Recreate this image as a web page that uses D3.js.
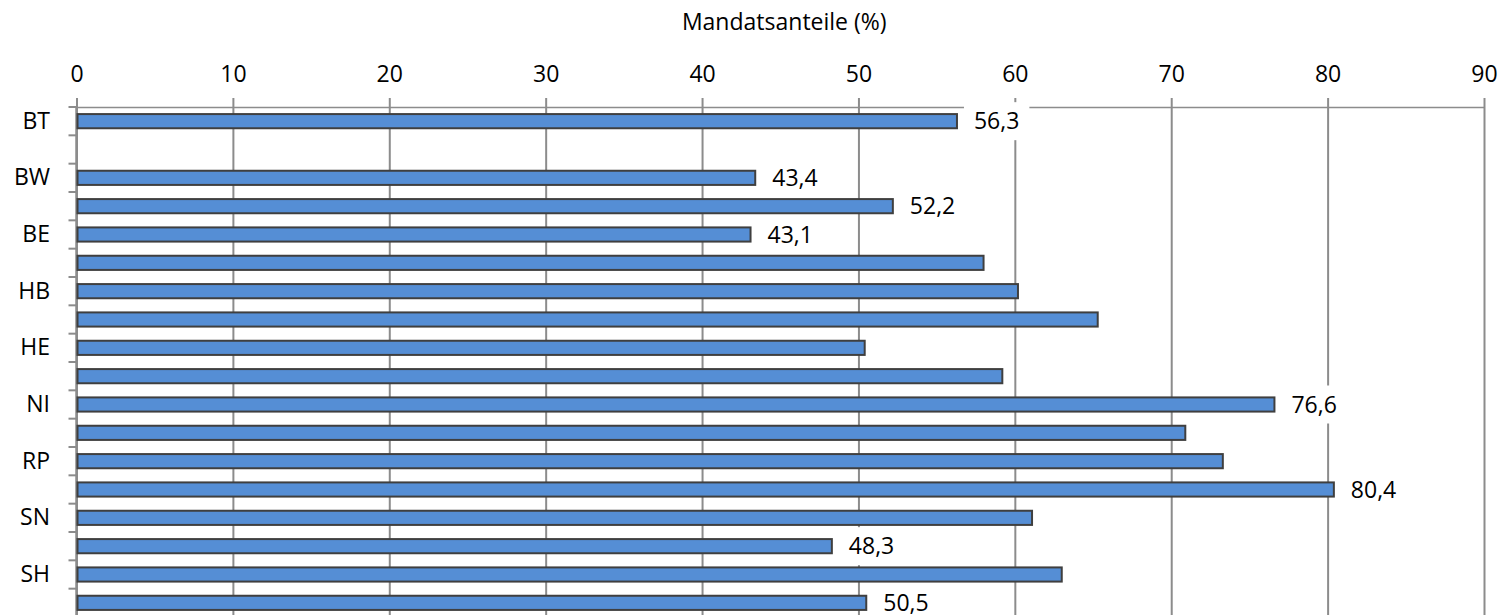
<!DOCTYPE html>
<html>
<head>
<meta charset="utf-8">
<script src="https://cdn.jsdelivr.net/npm/d3@7"></script>
<style>
  body { margin: 0; background: #fff; }
  text { font-family: "Open Sans", "Noto Sans", sans-serif; fill: #000; }
</style>
</head>
<body>
<div id="wrapper"></div>
<script>
// categories (one empty row after BT, as in the original)
const categories = ["BT", "", "BW", "BY", "BE", "BB", "HB", "HH", "HE", "MV", "NI", "NW", "RP", "SL", "SN", "ST", "SH", "TH"];
const seatShares = [56.3, null, 43.4, 52.2, 43.1, 58.0, 60.2, 65.3, 50.4, 59.2, 76.6, 70.9, 73.3, 80.4, 61.1, 48.3, 63.0, 50.5];
const labeledCategories = ["BT", "BW", "BY", "BE", "NI", "SL", "ST", "TH"];
const xTicks = [0, 10, 20, 30, 40, 50, 60, 70, 80, 90];
const axisTitle = "Mandatsanteile (%)";

function drawBarChart() {
  const data = categories.map((c, i) => ({ key: c === "" ? "_empty" + i : c, label: c, value: seatShares[i], index: i }));

  let dimensions = {
    width: 1508,
    height: 615,
    margin: { top: 107, right: 24, bottom: -2, left: 76.5 },
  };
  dimensions.boundedWidth = dimensions.width - dimensions.margin.left - dimensions.margin.right;
  dimensions.boundedHeight = dimensions.height - dimensions.margin.top - dimensions.margin.bottom;

  const fontSize = 23;
  const deFormat = d3.formatLocale({ decimal: ",", thousands: ".", grouping: [3], currency: ["", " €"] }).format(".1f");

  const svg = d3.select("#wrapper").append("svg")
    .attr("width", dimensions.width)
    .attr("height", dimensions.height);

  const bounds = svg.append("g")
    .attr("transform", `translate(${dimensions.margin.left},${dimensions.margin.top})`);

  const xScale = d3.scaleLinear()
    .domain([0, 90])
    .range([0, dimensions.boundedWidth]);

  const yScale = d3.scaleBand()
    .domain(data.map(d => d.key))
    .range([0, dimensions.boundedHeight])
    .paddingInner(0.5)
    .paddingOuter(0.25);

  const step = yScale.step();

  // vertical gridlines
  const grid = bounds.append("g")
    .call(d3.axisTop(xScale).tickValues(xTicks).tickSize(-dimensions.boundedHeight).tickFormat(""));
  grid.select(".domain").remove();
  grid.selectAll(".tick line").attr("stroke", "#8c8c8c").attr("stroke-width", 2);

  // top value axis
  const xAxis = bounds.append("g")
    .call(d3.axisTop(xScale).tickValues(xTicks).tickSize(9).tickSizeOuter(0).tickPadding(16).tickFormat(d3.format("d")));
  xAxis.select(".domain").attr("stroke", "#8c8c8c").attr("stroke-width", 1.5);
  xAxis.selectAll(".tick line").attr("stroke", "#8c8c8c").attr("stroke-width", 2);
  xAxis.selectAll(".tick text").attr("font-size", fontSize).style("font-family", '"Open Sans", sans-serif');

  // left category axis
  const yAxis = bounds.append("g")
    .call(d3.axisLeft(yScale).tickSize(0).tickPadding(26.5)
      .tickFormat(k => {
        const d = data.find(e => e.key === k);
        return d.index % 2 === 0 ? d.label : "";
      }));
  yAxis.select(".domain").remove();
  yAxis.selectAll(".tick text").attr("font-size", fontSize).style("font-family", '"Open Sans", sans-serif');

  const boundaries = d3.range(categories.length + 1).map(i => i * step);
  bounds.append("g").selectAll("line")
    .data(boundaries)
    .join("line")
    .attr("x1", -8).attr("x2", 0)
    .attr("y1", d => d).attr("y2", d => d)
    .attr("stroke", "#8c8c8c").attr("stroke-width", 2);
  bounds.append("line")
    .attr("x1", 0).attr("x2", 0)
    .attr("y1", 0).attr("y2", dimensions.boundedHeight)
    .attr("stroke", "#8c8c8c").attr("stroke-width", 2.5);

  // bars
  bounds.append("g").selectAll("rect")
    .data(data.filter(d => d.value != null))
    .join("rect")
    .attr("x", xScale(0) + 1)
    .attr("y", d => yScale(d.key))
    .attr("width", d => xScale(d.value) - xScale(0) - 1)
    .attr("height", yScale.bandwidth())
    .attr("fill", "#558ed5")
    .attr("stroke", "#3f3f3f")
    .attr("stroke-width", 2);

  // data labels with white boxes
  const labels = bounds.append("g").selectAll("g")
    .data(data.filter(d => labeledCategories.includes(d.label)))
    .join("g")
    .attr("transform", d => `translate(${xScale(d.value) + 7},${yScale(d.key) + yScale.bandwidth() / 2})`);

  const boxes = labels.append("rect").attr("fill", "#fff");
  const texts = labels.append("text")
    .attr("x", 10)
    .attr("dy", "0.35em")
    .attr("font-size", fontSize)
    .text(d => deFormat(d.value));
  texts.each(function (d, i) {
    const w = this.getComputedTextLength();
    d3.select(boxes.nodes()[i])
      .attr("x", 0).attr("y", -19)
      .attr("width", w + 20).attr("height", 38);
  });

  // axis title
  svg.append("text")
    .attr("x", dimensions.margin.left + dimensions.boundedWidth / 2 + 4)
    .attr("y", 22)
    .attr("dy", "0.35em")
    .attr("text-anchor", "middle")
    .attr("font-size", fontSize)
    .text(axisTitle);
}

drawBarChart();
</script>
</body>
</html>
